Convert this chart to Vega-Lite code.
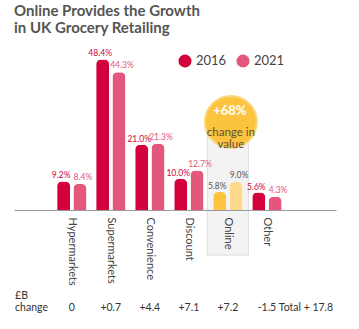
{
  "$schema": "https://vega.github.io/schema/vega-lite/v6.json",
  "autosize": {"type": "none"},
  "width": 322,
  "height": 155.5,
  "padding": {"left": 14, "top": 54.5, "right": 23, "bottom": 119},
  "background": "white",
  "title": {
    "text": ["Online Provides the Growth", "in UK Grocery Retailing"],
    "anchor": "start",
    "frame": "group",
    "font": "Lato",
    "fontSize": 15,
    "fontWeight": "bold",
    "color": "#555555",
    "lineHeight": 17,
    "offset": 13
  },
  "config": {
    "view": {"stroke": null},
    "font": "Lato"
  },
  "datasets": {
    "bars": [
      {"cat": "Hypermarkets", "year": "2016", "value": 9.2},
      {"cat": "Hypermarkets", "year": "2021", "value": 8.4},
      {"cat": "Supermarkets", "year": "2016", "value": 48.4},
      {"cat": "Supermarkets", "year": "2021", "value": 44.3},
      {"cat": "Convenience", "year": "2016", "value": 21.0},
      {"cat": "Convenience", "year": "2021", "value": 21.3},
      {"cat": "Discount", "year": "2016", "value": 10.0},
      {"cat": "Discount", "year": "2021", "value": 12.7},
      {"cat": "Online", "year": "2016", "value": 5.8},
      {"cat": "Online", "year": "2021", "value": 9.0},
      {"cat": "Other", "year": "2016", "value": 5.6},
      {"cat": "Other", "year": "2021", "value": 4.3}
    ],
    "change": [
      {"cat": "Hypermarkets", "text": "0"},
      {"cat": "Supermarkets", "text": "+0.7"},
      {"cat": "Convenience", "text": "+4.4"},
      {"cat": "Discount", "text": "+7.1"},
      {"cat": "Online", "text": "+7.2"},
      {"cat": "Other", "text": "-1.5"},
      {"cat": "Total", "text": "Total + 17.8"}
    ],
    "rowlabel": [{"cat": "lab", "text": "£B\nchange"}],
    "note": [{"cat": "Online", "big": "+68%", "small": "change in\nvalue"}]
  },
  "layer": [
    {
      "data": {"name": "note"},
      "mark": {"type": "bar", "width": {"band": 1.4}, "fill": "#F3F3F3", "stroke": "#DDDDDD", "strokeWidth": 1},
      "encoding": {
        "x": {"field": "cat", "type": "nominal", "sort": null, "title": null,
              "scale": {"domain": ["lab", "Hypermarkets", "Supermarkets", "Convenience", "Discount", "Online", "Other", "Total"], "paddingInner": 0.25, "paddingOuter": 0.25, "align": 0.21},
              "axis": {"labelAngle": 90, "labelAlign": "left", "labelBaseline": "middle", "ticks": false, "labelPadding": 7,
                       "labelFontSize": 11, "labelColor": "#444444", "labelFont": "Lato", "labelOverlap": false, "zindex": 1,
                       "domainColor": "#999999", "domainWidth": 1,
                       "labelExpr": "datum.value == 'lab' || datum.value == 'Total' ? '' : datum.value"}},
        "y": {"datum": 26, "type": "quantitative", "scale": {"domain": [0, 50]}, "axis": null},
        "y2": {"datum": -14.5}
      }
    },
    {
      "data": {"name": "bars"},
      "mark": {"type": "bar", "cornerRadiusEnd": 5},
      "encoding": {
        "x": {"field": "cat", "type": "nominal", "sort": null, "title": null},
        "xOffset": {"field": "year", "type": "nominal", "scale": {"domain": ["2016", "2021"], "paddingInner": 0.2, "paddingOuter": 0}},
        "y": {"field": "value", "type": "quantitative", "scale": {"domain": [0, 50]}, "axis": null},
        "color": {
          "condition": [
            {"test": "datum.cat === 'Online' && datum.year === '2016'", "value": "#FDC43F"},
            {"test": "datum.cat === 'Online' && datum.year === '2021'", "value": "#FFD98C"}
          ],
          "field": "year", "type": "nominal",
          "scale": {"domain": ["2016", "2021"], "range": ["#D3003B", "#E2577B"]},
          "legend": {"orient": "none", "legendX": 164, "legendY": -0.5, "direction": "horizontal", "title": null,
                     "symbolType": "circle", "symbolSize": 170, "symbolStrokeWidth": 0, "labelFontSize": 13,
                     "labelColor": "#444444", "labelOffset": 4, "columnPadding": 9, "labelFont": "Lato"}
        }
      }
    },
    {
      "data": {"name": "bars"},
      "transform": [{"filter": "datum.year === '2016'"}, {"calculate": "format(datum.value, '.1f') + '%'", "as": "lbl"}],
      "mark": {"type": "text", "baseline": "bottom", "dy": -1, "dx": -2.5, "fontSize": 8.5},
      "encoding": {
        "x": {"field": "cat", "type": "nominal"},
        "xOffset": {"field": "year", "type": "nominal", "scale": {"domain": ["2016", "2021"], "paddingInner": 0.2, "paddingOuter": 0}},
        "y": {"field": "value", "type": "quantitative", "scale": {"domain": [0, 50]}},
        "text": {"field": "lbl"},
        "color": {
          "condition": {"test": "datum.cat === 'Online'", "value": "#555555"},
          "field": "year", "type": "nominal"
        }
      }
    },
    {
      "data": {"name": "bars"},
      "transform": [{"filter": "datum.year === '2021'"}, {"calculate": "format(datum.value, '.1f') + '%'", "as": "lbl"}],
      "mark": {"type": "text", "baseline": "bottom", "dy": -2, "dx": 3, "fontSize": 8.5},
      "encoding": {
        "x": {"field": "cat", "type": "nominal"},
        "xOffset": {"field": "year", "type": "nominal", "scale": {"domain": ["2016", "2021"], "paddingInner": 0.2, "paddingOuter": 0}},
        "y": {"field": "value", "type": "quantitative", "scale": {"domain": [0, 50]}},
        "text": {"field": "lbl"},
        "color": {
          "condition": {"test": "datum.cat === 'Online'", "value": "#555555"},
          "field": "year", "type": "nominal"
        }
      }
    },
    {
      "data": {"name": "note"},
      "mark": {"type": "point", "shape": "circle", "filled": true, "size": 2700, "fill": "#FCC43E", "stroke": "#F8D77E", "strokeWidth": 2, "opacity": 1, "xOffset": 3},
      "encoding": {
        "x": {"field": "cat", "type": "nominal"},
        "y": {"datum": 28.3, "type": "quantitative", "scale": {"domain": [0, 50]}}
      }
    },
    {
      "data": {"name": "note"},
      "mark": {"type": "text", "fontSize": 13, "fontWeight": "bold", "color": "white", "baseline": "middle", "xOffset": 2},
      "encoding": {
        "x": {"field": "cat", "type": "nominal"},
        "y": {"datum": 31.8, "type": "quantitative", "scale": {"domain": [0, 50]}},
        "text": {"field": "big"}
      }
    },
    {
      "data": {"name": "note"},
      "mark": {"type": "text", "fontSize": 11.5, "color": "#5C4F3C", "baseline": "middle", "lineBreak": "\n", "lineHeight": 11.5, "xOffset": 3},
      "encoding": {
        "x": {"field": "cat", "type": "nominal"},
        "y": {"datum": 24.7, "type": "quantitative", "scale": {"domain": [0, 50]}},
        "text": {"field": "small"}
      }
    },
    {
      "data": {"name": "change"},
      "mark": {"type": "text", "fontSize": 10.5, "color": "#333333", "baseline": "bottom"},
      "encoding": {
        "x": {"field": "cat", "type": "nominal"},
        "y": {"datum": -33.1, "type": "quantitative", "scale": {"domain": [0, 50]}},
        "text": {"field": "text"}
      }
    },
    {
      "data": {"name": "rowlabel"},
      "mark": {"type": "text", "fontSize": 10.5, "color": "#333333", "baseline": "bottom", "align": "left", "lineBreak": "\n", "lineHeight": 12.5, "xOffset": -3},
      "encoding": {
        "x": {"field": "cat", "type": "nominal", "bandPosition": 0},
        "y": {"datum": -29.1, "type": "quantitative", "scale": {"domain": [0, 50]}},
        "text": {"field": "text"}
      }
    }
  ]
}
